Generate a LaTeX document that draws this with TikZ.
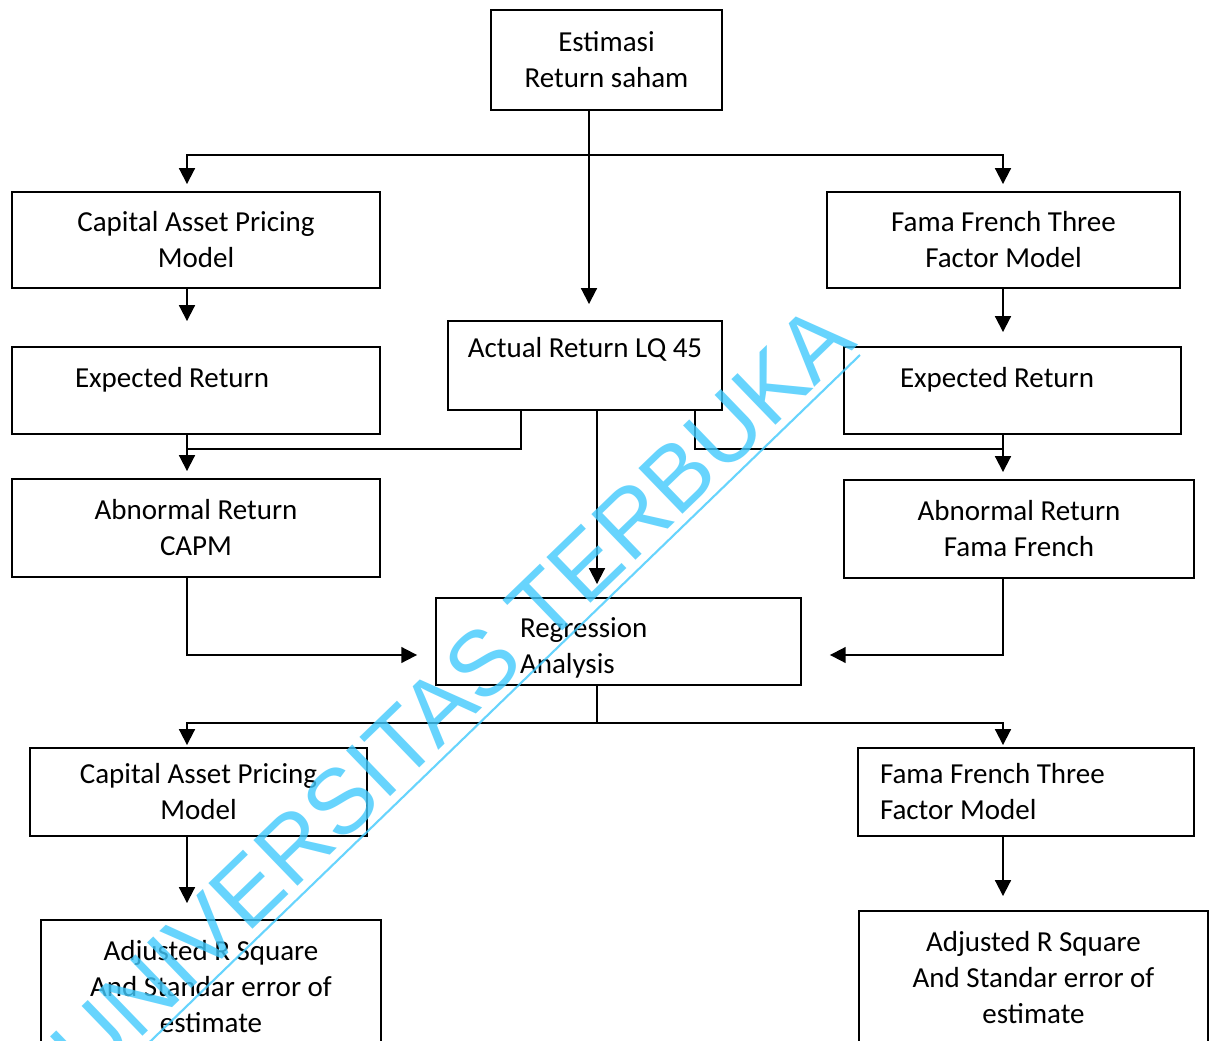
\documentclass[tikz,border=0pt]{standalone}
\usepackage{fontspec}
\setmainfont{Carlito}
\newfontfamily\wmfont{Liberation Sans}
\usetikzlibrary{arrows.meta, positioning, calc}

\definecolor{wmcyan}{RGB}{66,202,253}
\tikzset{
  box/.style={draw, line width=1.1pt, inner sep=0pt, align=center, font=\fontsize{16.5}{20.5}\selectfont},
  leftbox/.style={box, align=flush left},
  link/.style={line width=1.1pt},
  arr/.style={line width=1.1pt, -{Triangle[length=9pt,width=9pt]}},
  wmark/.style={text=wmcyan, opacity=0.8, inner sep=0pt, font=\wmfont\fontsize{52.5}{60}\selectfont},
}

\begin{document}
\begin{tikzpicture}[x=0.02cm, y=-0.02cm]
  \fill[white] (0,0) rectangle (1215,1041);
  \useasboundingbox (0,0) rectangle (1215,1041);
  \clip (0,0) rectangle (1215,1041);

  \node[box, minimum width=4.62cm, minimum height=2cm] (est) at (606.5,60) {Estimasi\\Return saham};

  \node[box, minimum width=7.36cm, minimum height=1.92cm] (capmA) at (196,240) {Capital Asset Pricing\\Model};
  \node[box, minimum width=7.06cm, minimum height=1.92cm] (famaA) at (1003.5,240) {Fama French Three\\Factor Model};

  \node[leftbox, inner xsep=1.26cm, text width=4.84cm, minimum height=1.74cm] (expL) at (196,390.5) {\rule{0pt}{17pt}Expected Return\\\mbox{}};
  \node[box, minimum width=5.48cm, minimum height=1.78cm] (actual) at (585,365.5) {Actual Return LQ 45\\\mbox{}};
  \node[leftbox, inner xsep=1.12cm, text width=4.5cm, minimum height=1.74cm] (expR) at (1012.5,390.5) {\rule{0pt}{17pt}Expected Return\\\mbox{}};

  \node[box, minimum width=7.36cm, minimum height=1.96cm] (abL) at (196,528) {Abnormal Return\\CAPM};
  \node[box, minimum width=7cm, minimum height=1.96cm] (abR) at (1019,529) {Abnormal Return\\Fama French};

  \node[leftbox, inner xsep=1.68cm, text width=3.94cm, minimum height=1.74cm] (reg) at (618.5,641.5) {\rule{0pt}{19pt}Regression\\Analysis};

  \node[box, minimum width=6.74cm, minimum height=1.76cm] (capmB) at (198.5,792) {Capital Asset Pricing\\Model};
  \node[leftbox, inner xsep=0.44cm, text width=5.84cm, minimum height=1.76cm] (famaB) at (1026,792) {Fama French Three\\Factor Model};

  \node[box, minimum width=6.8cm, minimum height=2.68cm] (adjL) at (211,987) {Adjusted R Square\\And Standar error of\\estimate};
  \node[box, minimum width=6.98cm, minimum height=2.68cm] (adjR) at (1033.5,978) {Adjusted R Square\\And Standar error of\\estimate};

  \coordinate (split) at (589,155);
  \coordinate (colL) at (187,0);
  \coordinate (colR) at (1003,0);
  \coordinate (actL) at (521,449);
  \coordinate (actR) at (695,449);
  \coordinate (mid) at (597,723);
  \coordinate (lev) at (0,655);

  \draw[link] (est.south -| split) -- (split);
  \draw[arr, shorten >=0.14cm] (split) -| (capmA.north -| colL);
  \draw[arr, shorten >=0.14cm] (split) -| (famaA.north -| colR);
  \draw[arr, shorten >=0.32cm] (split) -- (actual.north -| split);

  \draw[arr, shorten >=0.5cm] (capmA.south -| colL) -- (expL.north -| colL);
  \draw[arr, shorten >=0.28cm] (famaA.south -| colR) -- (expR.north -| colR);
  \draw[arr, shorten >=0.14cm] (expL.south -| colL) -- (abL.north -| colL);
  \draw[arr, shorten >=0.14cm] (expR.south -| colR) -- (abR.north -| colR);

  \draw[link] (actual.south -| actL) -- (actL) -- (actL -| colL);
  \draw[link] (actual.south -| actR) -- (actR) -- (actR -| colR);
  \draw[arr, shorten >=0.26cm] (actual.south -| mid) -- (reg.north -| mid);

  \draw[arr, shorten >=0.36cm] (abL.south -| colL) |- (reg.west |- lev);
  \draw[arr, shorten >=0.56cm] (abR.south -| colR) |- (reg.east |- lev);

  \draw[link] (reg.south -| mid) -- (mid);
  \draw[arr, shorten >=0.04cm] (mid) -| (capmB.north -| colL);
  \draw[arr, shorten >=0.04cm] (mid) -| (famaB.north -| colR);

  \draw[arr, shorten >=0.32cm] (capmB.south -| colL) -- (adjL.north -| colL);
  \draw[arr, shorten >=0.28cm] (famaB.south -| colR) -- (adjR.north -| colR);

  \node[wmark, rotate=44, anchor=base] (wm) at (474,716) {UNIVERSITAS TERBUKA};
  \draw[wmcyan, opacity=0.8, line width=1.2pt] (860,355) -- (98,1092);
\end{tikzpicture}
\end{document}
